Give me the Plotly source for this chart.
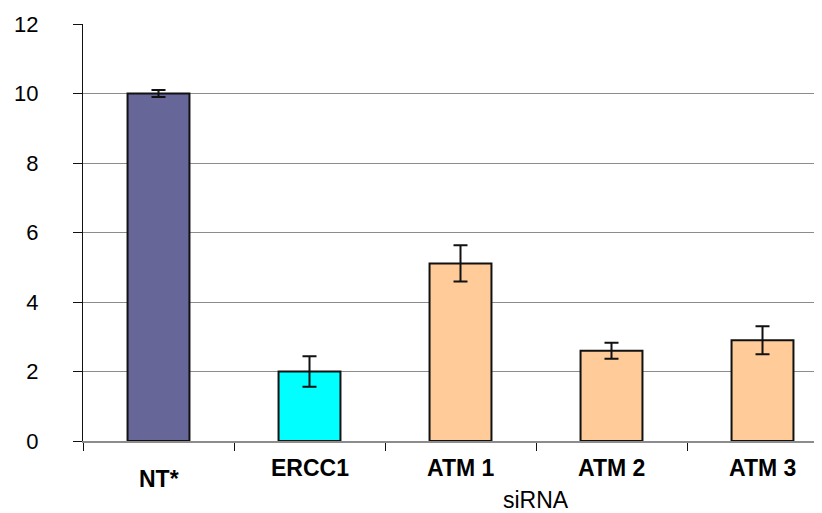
import plotly.graph_objects as go

categories = ["NT*", "ERCC1", "ATM 1", "ATM 2", "ATM 3"]
values = [10.0, 2.0, 5.11, 2.6, 2.9]
errors = [0.1, 0.44, 0.52, 0.23, 0.4]
colors = ["#666699", "#00FFFF", "#FFCC99", "#FFCC99", "#FFCC99"]
x_title = "siRNA"
y_ticks = [0, 2, 4, 6, 8, 10, 12]

FONT = "Arial, Liberation Sans, sans-serif"
xs = list(range(len(categories)))

fig = go.Figure()
fig.add_trace(go.Bar(
    x=xs, y=values, width=0.41,
    marker=dict(color=colors, line=dict(color="#111111", width=2)),
    error_y=dict(type="data", array=errors, visible=True,
                 color="#111111", thickness=2, width=7),
    showlegend=False,
))

for i, c in enumerate(categories):
    fig.add_annotation(x=i, y=0, xref="x", yref="paper", text=f"<b>{c}</b>",
                       showarrow=False, yanchor="middle", xanchor="center",
                       yshift=-38 if i == 0 else -27,
                       font=dict(family=FONT, size=23, color="black"))

fig.add_annotation(x=2.5, y=0, xref="x", yref="paper", text=x_title,
                   showarrow=False, yanchor="middle", xanchor="center", yshift=-59,
                   font=dict(family=FONT, size=23, color="black"))

fig.update_layout(
    width=814, height=505,
    margin=dict(l=75, r=0, t=16, b=72),
    paper_bgcolor="white", plot_bgcolor="white",
    font=dict(family=FONT, size=22, color="black"),
    bargap=0.59,
)
fig.update_xaxes(
    range=[-0.5, 4.394],
    tickmode="array", tickvals=[i - 0.5 for i in range(len(categories) + 1)],
    ticktext=["" for _ in range(len(categories) + 1)],
    ticks="outside", ticklen=8, tickcolor="#111111", tickwidth=1,
    showline=True, linecolor="#8c8c8c", linewidth=1.5,
    showgrid=False, zeroline=False,
)
fig.update_yaxes(
    range=[0, 12], tickmode="array", tickvals=y_ticks,
    ticks="outside", ticklen=9, tickcolor="#111111", tickwidth=1,
    ticklabelstandoff=30,
    showline=True, linecolor="#111111", linewidth=1,
    showgrid=True, gridcolor="#8c8c8c", gridwidth=1,
    zeroline=False,
    tickfont=dict(family=FONT, size=22, color="black"),
)

fig.write_html("out.html")
